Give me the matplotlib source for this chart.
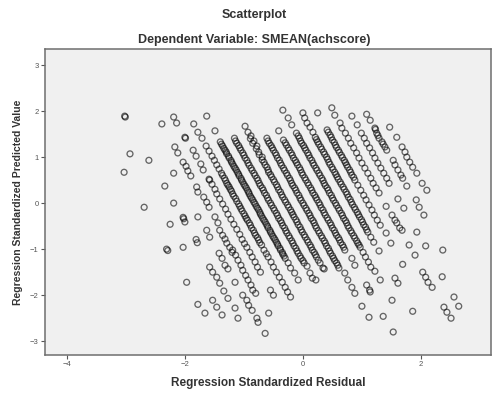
import matplotlib
matplotlib.use("Agg")
import matplotlib.pyplot as plt

plt.rcParams['font.family'] = ['Liberation Sans', 'DejaVu Sans']

# points, one list per diagonal band (residual, predicted)
band_01 = [(-3.03,0.67),(-2.69,-0.09),(-2.31,-1.00),(-2.29,-1.03),(-1.97,-1.72),(-1.78,-2.20),(-1.66,-2.39)]
band_02 = [(-2.93,1.07),(-2.25,-0.46),(-2.03,-0.96),(-1.53,-2.11),(-1.46,-2.26),(-1.37,-2.43)]
band_03 = [(-3.02,1.89),(-3.01,1.87),(-2.61,0.93),(-2.34,0.37),(-2.19,0.00),(-2.03,-0.31),(-2.02,-0.34),
           (-2.00,-0.41),(-1.81,-0.79),(-1.79,-0.86),(-1.58,-1.39),(-1.53,-1.50),(-1.46,-1.61),(-1.41,-1.74),
           (-1.34,-1.91),(-1.27,-2.07),(-1.15,-2.28),(-1.10,-2.50)]
band_04 = [(-2.19,0.65),(-1.78,-0.30),(-1.63,-0.59),(-1.58,-0.74),(-1.42,-1.09),(-1.37,-1.20),(-1.32,-1.35),
           (-1.27,-1.43),(-1.15,-1.72),(-1.02,-2.00),(-0.95,-2.11),(-0.92,-2.22),(-0.86,-2.33),(-0.78,-2.50),
           (-0.76,-2.59),(-0.64,-2.83)]
band_05 = [(-2.39,1.72),(-2.17,1.22),(-2.12,1.09),(-2.03,0.89),(-1.98,0.80),(-1.95,0.70),(-1.90,0.59),
           (-1.80,0.35),(-1.78,0.24),(-1.68,0.13),(-1.63,0.02),(-1.59,-0.09),(-1.49,-0.30),(-1.44,-0.43),
           (-1.41,-0.59),(-1.36,-0.70),(-1.32,-0.78),(-1.29,-0.87),(-1.24,-0.96),(-1.20,-1.07),(-1.19,-1.02),
           (-1.14,-1.13),(-1.10,-1.24),(-1.05,-1.35),(-1.02,-1.46),(-0.97,-1.57),(-0.93,-1.67),(-0.88,-1.78),
           (-0.85,-1.89),(-0.80,-1.96),(-0.58,-2.39)]
band_06 = [(-2.19,1.87),(-2.14,1.74),(-2.00,1.43),(-1.99,1.41),(-1.86,1.15),(-1.81,1.02),(-1.73,0.85),
           (-1.69,0.72),(-1.59,0.52),(-1.58,0.50),(-1.54,0.41),(-1.49,0.30),(-1.46,0.20),(-1.41,0.09),
           (-1.36,-0.02),(-1.31,-0.13),(-1.27,-0.24),(-1.22,-0.35),(-1.17,-0.46),(-1.12,-0.57),(-1.07,-0.68),
           (-1.03,-0.79),(-0.99,-0.88),(-0.95,-0.96),(-0.90,-1.07),(-0.86,-1.17),(-0.81,-1.28),(-0.77,-1.39),
           (-0.72,-1.50),(-0.55,-1.89),(-0.50,-2.00)]
band_07 = [(-1.85,1.72),(-1.78,1.54),(-1.71,1.41),(-1.64,1.24),(-1.59,1.13),(-1.54,1.02),(-1.50,0.93),
           (-1.46,0.83),(-1.42,0.74),(-1.38,0.65),(-1.33,0.54),(-1.29,0.43),(-1.25,0.35),(-1.21,0.26),
           (-1.17,0.15),(-1.12,0.04),(-1.07,-0.07),(-1.03,-0.17),(-0.98,-0.28),(-0.94,-0.37),(-0.89,-0.48),
           (-0.84,-0.59),(-0.80,-0.70),(-0.75,-0.80),(-0.70,-0.91),(-0.66,-1.02),(-0.62,-1.10),(-0.59,-1.17),
           (-0.54,-1.28),(-0.50,-1.39),(-0.45,-1.50),(-0.40,-1.61),(-0.35,-1.72),(-0.30,-1.83),(-0.26,-1.93),
           (-0.21,-2.04)]
band_08 = [(-1.63,1.89),(-1.49,1.57),(-1.40,1.33),(-1.36,1.24),(-1.32,1.15),(-1.29,1.07),(-1.25,0.98),
           (-1.21,0.89),(-1.17,0.80),(-1.13,0.72),(-1.09,0.63),(-1.05,0.54),(-1.02,0.46),(-0.98,0.37),
           (-0.94,0.28),(-0.91,0.20),(-0.87,0.11),(-0.83,0.02),(-0.79,-0.07),(-0.75,-0.15),(-0.72,-0.24),
           (-0.68,-0.33),(-0.64,-0.41),(-0.60,-0.50),(-0.56,-0.59),(-0.53,-0.67),(-0.49,-0.76),(-0.45,-0.85),
           (-0.42,-0.93),(-0.38,-1.02),(-0.34,-1.11),(-0.30,-1.20),(-0.25,-1.30),(-0.21,-1.41),(-0.14,-1.52),
           (-0.08,-1.67)]
band_09 = [(-1.16,1.41),(-1.12,1.30),(-1.07,1.20),(-1.02,1.09),(-0.98,0.98),(-0.93,0.87),(-0.88,0.76),
           (-0.83,0.65),(-0.78,0.54),(-0.74,0.43),(-0.69,0.33),(-0.65,0.22),(-0.60,0.11),(-0.55,0.00),
           (-0.50,-0.11),(-0.45,-0.22),(-0.41,-0.33),(-0.36,-0.43),(-0.31,-0.54),(-0.27,-0.65),(-0.22,-0.76),
           (-0.17,-0.87),(-0.12,-0.98),(-0.08,-1.09),(-0.03,-1.20),(0.02,-1.30),(0.07,-1.37),(0.12,-1.52),
           (0.16,-1.63),(0.22,-1.67)]
band_10 = [(-0.98,1.67),(-0.93,1.54),(-0.88,1.46),(-0.83,1.35),(-0.78,1.24),(-0.75,1.11),(-0.69,1.00),
           (-0.66,0.89),(-0.61,0.78),(-0.58,0.67),(-0.53,0.57),(-0.48,0.46),(-0.43,0.35),(-0.38,0.24),
           (-0.34,0.13),(-0.29,0.02),(-0.24,-0.09),(-0.19,-0.20),(-0.15,-0.30),(-0.10,-0.41),(-0.05,-0.52),
           (-0.01,-0.63),(0.04,-0.74),(0.09,-0.85),(0.14,-0.96),(0.19,-1.07),(0.23,-1.17),(0.29,-1.30),
           (0.34,-1.41),(0.36,-1.43)]
band_11 = [(-0.61,1.41),(-0.57,1.30),(-0.52,1.20),(-0.47,1.09),(-0.43,0.98),(-0.38,0.87),(-0.33,0.76),
           (-0.28,0.65),(-0.23,0.54),(-0.19,0.43),(-0.14,0.33),(-0.10,0.22),(-0.05,0.11),(0.00,0.00),
           (0.05,-0.11),(0.10,-0.22),(0.14,-0.33),(0.19,-0.43),(0.23,-0.54),(0.28,-0.65),(0.33,-0.76),
           (0.38,-0.87),(0.43,-0.98),(0.47,-1.09),(0.52,-1.20),(0.57,-1.30),(0.61,-1.41),(0.71,-1.52),
           (0.76,-1.67),(0.83,-1.83),(0.88,-1.96),(1.00,-2.24),(1.12,-2.48)]
band_12 = [(-0.41,1.57),(-0.33,1.37),(-0.28,1.26),(-0.23,1.15),(-0.18,1.04),(-0.13,0.93),(-0.09,0.83),
           (-0.04,0.72),(0.00,0.61),(0.05,0.50),(0.10,0.39),(0.15,0.28),(0.20,0.17),(0.24,0.07),
           (0.29,-0.04),(0.34,-0.15),(0.38,-0.26),(0.43,-0.37),(0.48,-0.48),(0.53,-0.59),(0.57,-0.70),
           (0.62,-0.80),(0.67,-0.91),(0.71,-1.02),(0.83,-1.20),(0.88,-1.35),(1.08,-1.78),(1.13,-1.89),
           (1.14,-1.93),(1.36,-2.46),(1.53,-2.80)]
band_13 = [(-0.34,2.02),(-0.25,1.85),(-0.19,1.70),(-0.11,1.52),(-0.06,1.41),(-0.02,1.30),(0.03,1.20),
           (0.08,1.09),(0.12,0.98),(0.17,0.87),(0.22,0.76),(0.27,0.65),(0.32,0.54),(0.36,0.43),(0.41,0.33),
           (0.45,0.22),(0.50,0.11),(0.55,0.00),(0.60,-0.11),(0.65,-0.22),(0.69,-0.33),(0.74,-0.43),
           (0.78,-0.54),(0.83,-0.65),(0.88,-0.76),(0.93,-0.87),(0.97,-0.96),(1.02,-1.07),(1.06,-1.17),
           (1.11,-1.28),(1.15,-1.39),(1.22,-1.48),(1.31,-1.67),(1.51,-2.11)]
band_14 = [(0.00,1.96),(0.03,1.85),(0.07,1.74),(0.12,1.65),(0.17,1.54),(0.21,1.43),(0.25,1.33),(0.30,1.22),
           (0.35,1.11),(0.40,1.00),(0.44,0.89),(0.49,0.78),(0.54,0.67),(0.58,0.57),(0.63,0.46),(0.68,0.35),
           (0.73,0.24),(0.77,0.13),(0.82,0.02),(0.87,-0.09),(0.92,-0.20),(0.96,-0.30),(1.01,-0.41),
           (1.06,-0.52),(1.10,-0.63),(1.15,-0.74),(1.20,-0.85),(1.29,-1.04),(1.56,-1.63),(1.61,-1.74),
           (1.86,-2.35)]
band_15 = [(0.25,1.96),(0.41,1.59),(0.46,1.48),(0.50,1.37),(0.55,1.26),(0.60,1.15),(0.65,1.04),(0.70,0.93),
           (0.74,0.83),(0.79,0.72),(0.83,0.61),(0.88,0.50),(0.93,0.39),(0.98,0.28),(1.03,0.17),(1.07,0.07),
           (1.12,-0.04),(1.17,-0.15),(1.21,-0.26),(1.26,-0.37),(1.31,-0.48),(1.41,-0.65),(1.49,-0.87),
           (1.69,-1.33)]
band_16 = [(0.49,2.07),(0.54,1.91),(0.63,1.74),(0.66,1.63),(0.72,1.52),(0.77,1.41),(0.81,1.30),(0.86,1.20),
           (0.91,1.09),(0.95,0.98),(1.00,0.87),(1.05,0.76),(1.10,0.65),(1.15,0.54),(1.19,0.43),(1.24,0.33),
           (1.29,0.22),(1.41,-0.07),(1.51,-0.26),(1.56,-0.37),(1.59,-0.43),(1.64,-0.54),(1.68,-0.59),
           (1.80,-0.91),(1.90,-1.13),(2.03,-1.50),(2.08,-1.61),(2.12,-1.72),(2.19,-1.83),(2.39,-2.26),
           (2.44,-2.37),(2.51,-2.50)]
band_17 = [(0.83,1.89),(0.92,1.70),(0.99,1.52),(1.04,1.41),(1.08,1.30),(1.13,1.20),(1.18,1.09),(1.22,0.98),
           (1.27,0.87),(1.32,0.76),(1.37,0.65),(1.42,0.54),(1.46,0.43),(1.61,0.09),(1.71,-0.11),(1.93,-0.63),
           (2.08,-0.93),(2.36,-1.60),(2.56,-2.04),(2.64,-2.24)]
band_18 = [(1.08,1.93),(1.14,1.80),(1.22,1.63),(1.23,1.60),(1.25,1.52),(1.27,1.47),(1.29,1.41),(1.34,1.33),
           (1.36,1.28),(1.39,1.22),(1.42,1.15),(1.53,0.93),(1.56,0.83),(1.61,0.72),(1.66,0.61),(1.69,0.54),
           (1.76,0.37),(1.92,0.07),(1.97,-0.09),(2.05,-0.26),(2.37,-1.02)]
band_19 = [(1.47,1.65),(1.59,1.43),(1.68,1.22),(1.73,1.11),(1.76,1.00),(1.81,0.89),(1.86,0.78),(1.93,0.65),
           (2.02,0.43),(2.10,0.28)]

# extra overlapping cases in the dark middle of the thickest bands
dense_07 = [(-1.36,0.60),(-1.31,0.49),(-1.27,0.39),(-1.23,0.30),(-1.19,0.20),(-1.14,0.10),(-1.09,-0.02),
            (-1.05,-0.12),(-1.00,-0.23),(-0.96,-0.33),(-0.91,-0.43),(-0.87,-0.54),(-0.82,-0.65),(-0.77,-0.75),
            (-0.73,-0.86)]
dense_08 = [(-1.38,1.28),(-1.34,1.19),(-1.30,1.11),(-1.26,1.02),(-1.22,0.93),(-1.19,0.85),(-1.15,0.76),
            (-1.11,0.67),(-1.08,0.59),(-1.04,0.50),(-1.00,0.41),(-0.96,0.33),(-0.92,0.24),(-0.89,0.15),
            (-0.85,0.07),(-0.81,-0.02),(-0.77,-0.11),(-0.73,-0.20),(-0.70,-0.28),(-0.66,-0.37),(-0.62,-0.46),
            (-0.59,-0.54),(-0.55,-0.63),(-0.51,-0.72),(-0.47,-0.80),(-0.43,-0.89),(-0.39,-0.98),(-0.35,-1.07),
            (-0.32,-1.15)]
dense_09 = [(-1.14,1.35),(-1.09,1.25),(-1.05,1.15),(-1.00,1.04),(-0.95,0.93),(-0.91,0.82),(-0.86,0.71),
            (-0.81,0.60),(-0.76,0.49),(-0.72,0.38),(-0.67,0.28),(-0.62,0.17),(-0.58,0.06),(-0.53,-0.05),
            (-0.48,-0.16),(-0.43,-0.27),(-0.38,-0.38),(-0.34,-0.49),(-0.29,-0.60),(-0.24,-0.71),(-0.19,-0.82),
            (-0.15,-0.93),(-0.10,-1.04),(-0.05,-1.15),(0.00,-1.25)]
dense_10 = [(-0.89,1.40),(-0.85,1.30),(-0.79,1.18),(-0.74,1.05),(-0.69,0.94),(-0.64,0.83),(-0.59,0.72),
            (-0.55,0.62),(-0.50,0.51),(-0.45,0.40),(-0.41,0.29),(-0.36,0.18),(-0.31,0.07),(-0.26,-0.04),
            (-0.21,-0.15),(-0.17,-0.25),(-0.12,-0.36),(-0.08,-0.47),(-0.03,-0.58),(0.02,-0.69),(0.07,-0.80),
            (0.12,-0.91),(0.16,-1.02),(0.21,-1.12),(0.26,-1.24)]
dense_11 = [(-0.59,1.35),(-0.54,1.25),(-0.50,1.15),(-0.45,1.04),(-0.40,0.93),(-0.36,0.82),(-0.31,0.71),
            (-0.26,0.60),(-0.21,0.49),(-0.17,0.38),(-0.12,0.28),(-0.07,0.17),(-0.03,0.06),(0.02,-0.05),
            (0.07,-0.16),(0.12,-0.27),(0.17,-0.38),(0.21,-0.49),(0.26,-0.60),(0.31,-0.71),(0.36,-0.82),
            (0.40,-0.93),(0.45,-1.04),(0.50,-1.15),(0.54,-1.25),(0.59,-1.35)]
dense_12 = [(-0.30,1.31),(-0.25,1.20),(-0.20,1.09),(-0.16,0.98),(-0.11,0.88),(-0.06,0.77),(-0.02,0.66),
            (0.03,0.55),(0.08,0.44),(0.13,0.33),(0.17,0.22),(0.22,0.12),(0.27,0.01),(0.31,-0.10),(0.36,-0.21),
            (0.41,-0.32),(0.46,-0.43),(0.50,-0.54),(0.55,-0.65),(0.60,-0.75),(0.64,-0.86),(0.69,-0.96)]
dense_13 = [(-0.08,1.46),(-0.04,1.35),(0.01,1.25),(0.05,1.15),(0.10,1.04),(0.15,0.93),(0.19,0.82),
            (0.24,0.71),(0.29,0.60),(0.34,0.49),(0.38,0.38),(0.43,0.28),(0.48,0.17),(0.52,0.06),(0.57,-0.05),
            (0.62,-0.16),(0.67,-0.27),(0.72,-0.38),(0.76,-0.49),(0.81,-0.60),(0.86,-0.71),(0.91,-0.82),
            (0.95,-0.91)]
dense_14 = [(0.23,1.38),(0.27,1.28),(0.32,1.17),(0.37,1.06),(0.42,0.95),(0.46,0.84),(0.51,0.73),(0.56,0.62),
            (0.60,0.52),(0.65,0.41),(0.70,0.30),(0.75,0.19),(0.80,0.08),(0.84,-0.03),(0.89,-0.14),(0.94,-0.25),
            (0.99,-0.36),(1.03,-0.47),(1.08,-0.58)]
dense_15 = [(0.43,1.54),(0.48,1.43),(0.53,1.32),(0.57,1.21),(0.62,1.10),(0.67,0.99),(0.72,0.88),(0.76,0.78),
            (0.81,0.67),(0.86,0.56)]

bands = [band_01, band_02, band_03, band_04, band_05, band_06, band_07, band_08, band_09, band_10,
         band_11, band_12, band_13, band_14, band_15, band_16, band_17, band_18, band_19,
         dense_07, dense_08, dense_09, dense_10, dense_11, dense_12, dense_13, dense_14, dense_15]

x_ticks = [-4, -2, 0, 2]
y_ticks = [-3, -2, -1, 0, 1, 2, 3]

residual = [p[0] for b in bands for p in b]
predicted = [p[1] for b in bands for p in b]

# figure
fig = plt.figure(figsize=(4.93, 3.96), dpi=100)
ax = fig.add_axes([0.0913, 0.1035, 0.905, 0.773])
ax.set_facecolor("#f0f0f0")

ax.scatter(residual, predicted, s=18, facecolors="none", edgecolors="black",
           linewidths=0.95, alpha=0.58)

ax.set_xlim(-4.37, 3.19)
ax.set_ylim(-3.30, 3.35)
ax.set_xticks(x_ticks)
ax.set_yticks(y_ticks)
ax.tick_params(direction="out", length=3, width=0.8, colors="#555555", labelsize=5.5, pad=1.5)

for s in ax.spines.values():
    s.set_color("#6e6e6e")
    s.set_linewidth(1.1)

fig.text(0.515, 0.963, "Scatterplot", ha="center", va="center", fontsize=9, fontweight="bold", color="#333333")
fig.text(0.515, 0.899, "Dependent Variable: SMEAN(achscore)", ha="center", va="center", fontsize=9,
         fontweight="bold", color="#333333")
ax.set_xlabel("Regression Standardized Residual", fontsize=8.5, fontweight="bold", color="#333333", labelpad=6)
ax.set_ylabel("Regression Standardized Predicted Value", fontsize=7.5, fontweight="bold", color="#333333",
              labelpad=5)

fig.savefig("out.png", dpi=100)
